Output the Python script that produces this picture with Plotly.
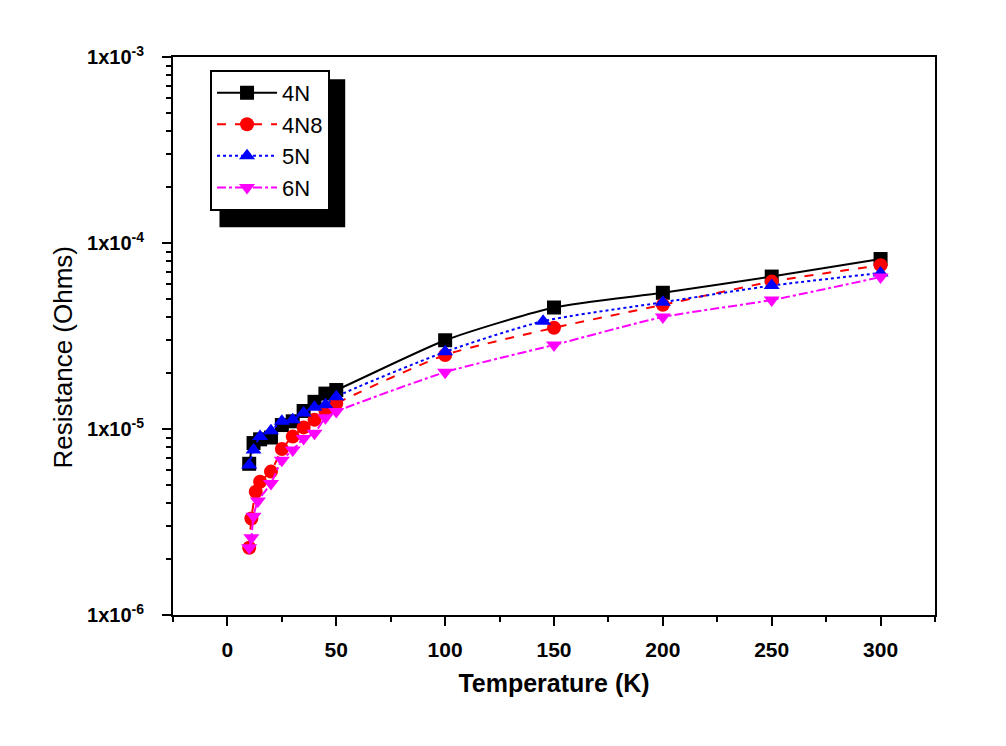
import plotly.graph_objects as go

t_4n = [10, 12, 15, 20, 25, 30, 35, 40, 45, 50, 100, 150, 200, 250, 300]
r_4n = [6.5e-6, 8.4e-6, 8.8e-6, 9.0e-6, 1.05e-5, 1.1e-5, 1.25e-5, 1.4e-5, 1.55e-5, 1.62e-5,
        3.0e-5, 4.5e-5, 5.4e-5, 6.6e-5, 8.2e-5]

t_4n8 = [10, 11, 13, 15, 20, 25, 30, 35, 40, 45, 50, 100, 150, 200, 250, 300]
r_4n8 = [2.3e-6, 3.3e-6, 4.6e-6, 5.2e-6, 5.9e-6, 7.8e-6, 9.1e-6, 1.02e-5, 1.12e-5, 1.25e-5,
         1.37e-5, 2.5e-5, 3.5e-5, 4.65e-5, 6.2e-5, 7.6e-5]

t_5n = [10, 12, 15, 20, 25, 30, 35, 40, 45, 50, 100, 145, 200, 250, 300]
r_5n = [6.4e-6, 7.7e-6, 9.1e-6, 9.8e-6, 1.1e-5, 1.12e-5, 1.22e-5, 1.31e-5, 1.35e-5, 1.49e-5,
        2.6e-5, 3.8e-5, 4.8e-5, 5.9e-5, 6.9e-5]

t_6n = [10, 11, 12, 14, 20, 25, 30, 35, 40, 45, 50, 100, 150, 200, 250, 300]
r_6n = [2.3e-6, 2.6e-6, 3.4e-6, 4.1e-6, 5.1e-6, 6.8e-6, 7.7e-6, 8.9e-6, 9.5e-6, 1.15e-5,
        1.24e-5, 2.02e-5, 2.83e-5, 4.0e-5, 4.94e-5, 6.56e-5]

y_ticks = [1e-6, 1e-5, 1e-4, 1e-3]
y_labels = ["<b>1x10<sup>-6</sup></b>", "<b>1x10<sup>-5</sup></b>",
            "<b>1x10<sup>-4</sup></b>", "<b>1x10<sup>-3</sup></b>"]
y_minor = [m * d for d in (1e-6, 1e-5, 1e-4) for m in range(2, 10)]

series = [
    ("4N", t_4n, r_4n, "black", "solid", "square"),
    ("4N8", t_4n8, r_4n8, "red", "dash", "circle"),
    ("5N", t_5n, r_5n, "blue", "dot", "triangle-up"),
    ("6N", t_6n, r_6n, "#ff00ff", "dashdot", "triangle-down"),
]

fig = go.Figure()
for name, t, r, col, dash, sym in series:
    fig.add_trace(go.Scatter(
        x=t, y=r, name=name, mode="lines+markers",
        line=dict(color=col, dash=dash, width=2, shape="spline", smoothing=0.6),
        marker=dict(symbol=sym, size=14, color=col),
    ))

# legend drop shadow
fig.add_shape(type="rect", xref="paper", yref="paper",
              x0=0.061, x1=0.226, y0=0.695, y1=0.96,
              fillcolor="black", line_width=0, layer="below")

# y axis title placed by hand
fig.add_annotation(text="Resistance (Ohms)", xref="paper", yref="paper",
                   x=-0.144, y=0.462, xanchor="center", yanchor="middle",
                   textangle=-90, showarrow=False,
                   font=dict(size=26, family="Liberation Sans, Arial"))

fig.update_layout(
    width=1006, height=746,
    margin=dict(l=165, r=79, t=49, b=139),
    plot_bgcolor="white", paper_bgcolor="white",
    font=dict(family="Liberation Sans, Arial", color="black"),
    legend=dict(x=0.0486, y=0.977, xanchor="left", yanchor="top",
                bgcolor="white", bordercolor="black", borderwidth=2,
                font=dict(size=22, family="Liberation Sans, Arial"),
                tracegroupgap=0, itemwidth=60),
    xaxis=dict(
        range=[-25, 325], tickvals=[0, 50, 100, 150, 200, 250, 300],
        showgrid=False, zeroline=False,
        showline=True, linecolor="black", linewidth=2, mirror=True,
        ticks="outside", ticklen=9, tickwidth=2, tickcolor="black",
        minor=dict(dtick=25, tick0=-25, ticks="outside", ticklen=5, tickwidth=2, tickcolor="black"),
        tickfont=dict(size=21, weight="bold"), ticklabelstandoff=6,
        title=dict(text="<b>Temperature (K)</b>", font=dict(size=25), standoff=14),
    ),
    yaxis=dict(
        type="log", range=[-6, -3], tickvals=y_ticks, ticktext=y_labels,
        showgrid=False, zeroline=False,
        showline=True, linecolor="black", linewidth=2, mirror=True,
        ticks="outside", ticklen=9, tickwidth=2, tickcolor="black",
        minor=dict(tickvals=y_minor, ticks="outside", ticklen=5, tickwidth=2,
                   tickcolor="black", showgrid=False),
        tickfont=dict(size=20), ticklabelstandoff=14,
    ),
)

fig.write_html("out.html")
